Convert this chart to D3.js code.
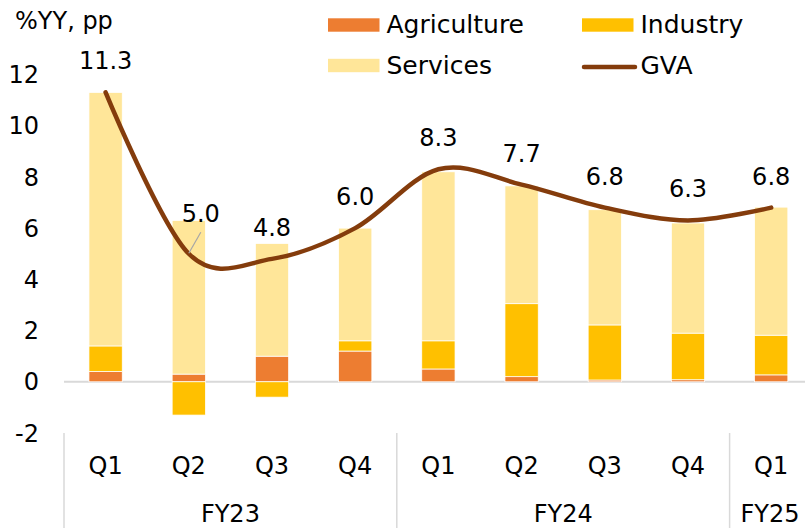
<!DOCTYPE html>
<html><head><meta charset="utf-8">
<script src="https://cdn.jsdelivr.net/npm/d3@7"></script>
<style>body{margin:0;background:#fff}svg{display:block;font-family:"DejaVu Sans",Verdana,sans-serif}</style>
</head><body>
<script>
const quarters = ["Q1","Q2","Q3","Q4","Q1","Q2","Q3","Q4","Q1"];
const fiscalYears = ["FY23","FY23","FY23","FY23","FY24","FY24","FY24","FY24","FY25"];
const agriculture = [0.4, 0.3, 1.0, 1.2, 0.5, 0.2, 0.07, 0.08, 0.27];
const industry    = [1.0, -1.3, -0.6, 0.4, 1.1, 2.85, 2.15, 1.82, 1.55];
const services    = [9.9, 6.0, 4.4, 4.4, 6.6, 4.6, 4.5, 4.3, 5.0];
const gva         = [11.3, 5.0, 4.8, 6.0, 8.3, 7.7, 6.8, 6.3, 6.8];
const gvaLabels   = ["11.3","5.0","4.8","6.0","8.3","7.7","6.8","6.3","6.8"];
const yTicks = [-2, 0, 2, 4, 6, 8, 10, 12];
const seriesNames = ["Agriculture","Industry","Services"];
const colors = {Agriculture:"#ED7D31", Industry:"#FFC000", Services:"#FFE699", GVA:"#843C0C"};

const W = 805, H = 528;
const svg = d3.select("body").append("svg").attr("width", W).attr("height", H);

const idx = quarters.map((q,i)=>i);
const x = d3.scaleBand().domain(idx).range([64, 812.8]).paddingInner(0.6).paddingOuter(0.3);
const y = d3.scaleLinear().domain([-2, 12]).range([433, 74.5]);

const rows = idx.map(i => ({i, Agriculture: agriculture[i], Industry: industry[i], Services: services[i]}));
const stack = d3.stack().keys(seriesNames).offset(d3.stackOffsetDiverging)(rows);

// zero line
svg.append("line").attr("x1", 64).attr("x2", W).attr("y1", y(0)).attr("y2", y(0))
  .attr("stroke", "#D9D9D9").attr("stroke-width", 2);

// bars
svg.append("g").selectAll("g").data(stack).join("g")
  .attr("fill", d => colors[d.key])
  .selectAll("rect").data(d => d).join("rect")
  .attr("x", d => x(d.data.i))
  .attr("width", x.bandwidth())
  .attr("y", d => y(Math.max(d[0], d[1])))
  .attr("height", d => Math.abs(y(d[0]) - y(d[1])))
  .attr("stroke", "#fff").attr("stroke-width", 0.75);

// y axis labels
svg.append("g").selectAll("text").data(yTicks).join("text")
  .attr("x", 39).attr("y", d => y(d)).attr("dy", "0.36em")
  .attr("text-anchor", "end").attr("font-size", 24).attr("fill", "#000")
  .text(d => d);

// GVA line
const cx = i => x(i) + x.bandwidth()/2;
const line = d3.line().x((d,i) => cx(i)).y(d => y(d)).curve(d3.curveCardinal.tension(0));
svg.append("path").attr("d", line(gva)).attr("fill", "none")
  .attr("stroke", colors.GVA).attr("stroke-width", 4.5).attr("stroke-linecap", "round");

// data labels
const labelPos = i => i === 1 ? {x: cx(i) + 12, y: y(gva[i]) - 32} : {x: cx(i), y: y(gva[i]) - 23};
// leader line for offset label
{
  const i = 1, p = labelPos(i);
  svg.append("line").attr("x1", p.x).attr("y1", p.y + 10.5).attr("x2", cx(i)).attr("y2", y(gva[i]) - 0.5)
    .attr("stroke", "#A6A6A6").attr("stroke-width", 1.2);
}
svg.append("g").selectAll("text").data(gvaLabels).join("text")
  .attr("x", (d,i) => labelPos(i).x).attr("y", (d,i) => labelPos(i).y)
  .attr("text-anchor", "middle").attr("font-size", 24).attr("fill", "#000")
  .text(d => d);

// category axis
svg.append("g").selectAll("text").data(quarters).join("text")
  .attr("x", (d,i) => cx(i)).attr("y", 474)
  .attr("text-anchor", "middle").attr("font-size", 24).attr("fill", "#000").text(d => d);

const groups = [];
fiscalYears.forEach((fy,i) => {
  const last = groups[groups.length-1];
  if (last && last.fy === fy) last.end = i; else groups.push({fy, start:i, end:i});
});
const step = x.step();
const gx0 = g => x(g.start) - x.paddingInner()*step/2;
const gx1 = g => x(g.end) + x.bandwidth() + x.paddingInner()*step/2;
const seps = [gx0(groups[0])].concat(groups.map(gx1));
svg.append("g").selectAll("line").data(seps).join("line")
  .attr("x1", d => d).attr("x2", d => d).attr("y1", 433).attr("y2", H)
  .attr("stroke", "#D9D9D9").attr("stroke-width", 1.5);
svg.append("g").selectAll("text").data(groups).join("text")
  .attr("x", g => Math.min((gx0(g) + gx1(g))/2, 770)).attr("y", 521.5)
  .attr("text-anchor", "middle").attr("font-size", 24).attr("fill", "#000").text(g => g.fy);

// unit label
svg.append("text").attr("x", 15).attr("y", 29).attr("font-size", 24).attr("fill", "#000").text("%YY, pp");

// legend
const legendItems = [
  {name:"Agriculture", type:"rect", x:328, y:25},
  {name:"Industry", type:"rect", x:582, y:25},
  {name:"Services", type:"rect", x:328, y:65.5},
  {name:"GVA", type:"line", x:582, y:65.5}
];
const lg = svg.append("g").selectAll("g").data(legendItems).join("g")
  .attr("transform", d => `translate(${d.x},${d.y})`);
lg.filter(d => d.type === "rect").append("rect")
  .attr("x", 0).attr("y", -6.7).attr("width", 51.5).attr("height", 13.4).attr("fill", d => colors[d.name]);
lg.filter(d => d.type === "line").append("line")
  .attr("x1", 2).attr("x2", 53).attr("y1", 1.5).attr("y2", 1.5)
  .attr("stroke", colors.GVA).attr("stroke-width", 4.5).attr("stroke-linecap", "round");
lg.append("text").attr("x", 58.5).attr("y", 8).attr("font-size", 25).attr("fill", "#000").text(d => d.name);
</script>
</body></html>
